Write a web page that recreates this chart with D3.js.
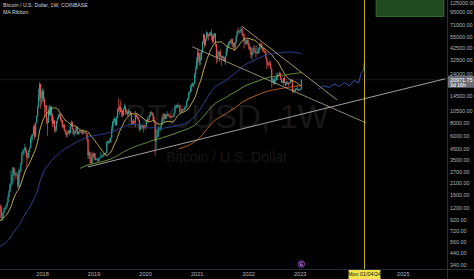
<!DOCTYPE html>
<html lang="en">
<head>
<meta charset="UTF-8" />
<title>BTCUSD 1W COINBASE</title>
<script src="https://d3js.org/d3.v7.min.js"></script>
<style>
  html, body { margin: 0; padding: 0; background: #000; overflow: hidden; }
  svg { display: block; font-family: "Liberation Sans", Arial, sans-serif; }
</style>
</head>
<body>
<div id="chart"></div>
<script>
// weekly bars, first one is Monday 2014-12-01 (start of COINBASE history)
const firstBar = new Date(2014, 11, 1);

// closes before the visible window, only used for the moving averages
const histClose = [
  375, 355, 330, 318, 270,
  266, 210, 253, 226, 222, 234, 245, 255, 275, 285, 260, 247, 255, 236, 224, 226, 232, 240, 237, 237, 230,
  225, 232, 250, 243, 257, 292, 275, 290, 285, 280, 265, 233, 228, 230, 230, 231, 236, 237, 246, 265, 285,
  325, 384, 330, 322, 362, 378, 434, 458, 422, 430,
  448, 380, 390, 378, 375, 378, 405, 435, 437, 411, 415, 410, 416, 420, 425, 450, 455, 460, 455, 445, 530,
  535, 575, 690, 670, 640, 650, 660, 655, 655, 590, 585, 575, 570, 575, 610, 605, 605, 608, 615, 640, 655,
  700, 705, 700, 740, 735, 740, 770, 790, 890, 998
];

// weekly candles from 2017-01-02 (open = previous close)
const close = [
  910, 820, 920, 920, 1020, 1000, 1055, 1180, 1270, 1230, 960, 965, 1080, 1180, 1180, 1240, 1350, 1540, 1720, 2040,
  2050, 2530, 2950, 2560, 2600, 2500, 2500, 1950, 2750, 2730, 3250, 4070, 4100, 4340, 4600, 4200, 3700, 3700, 4350, 4600,
  5700, 6000, 6150, 7400, 5900, 8000, 9300, 11300, 15000, 19100, 14000, 13850,
  16200, 13600, 11600, 11750, 8200, 8100, 10400, 9600, 11500, 9550, 7850, 8450, 6850, 7000, 8350, 8900, 9400, 9650, 8700, 8500,
  7350, 7700, 6780, 6450, 6150, 6370, 6750, 6350, 7400, 8200, 7030, 6300, 6400, 6700, 7300, 6250, 6500, 6700, 6600, 6600,
  6300, 6450, 6400, 6480, 6350, 5600, 3900, 4150, 3600, 3250, 3950, 3850, 4050,
  3500, 3550, 3550, 3420, 3680, 3680, 3800, 3820, 3940, 4020, 4000, 4100, 5200, 5150, 5300, 5200, 5750, 6950, 8200, 8750,
  8750, 7650, 8950, 10850, 10800, 11450, 10250, 10550, 9500, 11000, 11550, 10200, 10150, 9750, 10400, 10300, 10000, 8050, 7850, 8300,
  8200, 9550, 9200, 8800, 8500, 6900, 7400, 7500, 7100, 7500, 7400, 7350,
  8200, 8700, 8600, 9350, 10150, 9900, 9650, 8550, 8050, 5350, 5850, 5900, 6780, 6900, 7120, 7700, 8900, 8750, 9680, 8720,
  9450, 9750, 9350, 9300, 9100, 9080, 9300, 9200, 9950, 11050, 11700, 11900, 11650, 11700, 10250, 10330, 10940, 10780, 10670, 11380,
  11500, 13030, 13750, 15480, 15960, 18400, 18200, 19150, 19150, 23850, 26280, 32000,
  38200, 35800, 32300, 33100, 39000, 48800, 57400, 45200, 51200, 59000, 57300, 55800, 58200, 60000, 56200, 49100, 56600, 58200, 46400, 34700,
  35700, 35800, 39100, 35500, 34700, 35300, 34250, 31800, 35400, 39900, 43800, 47100, 49300, 48800, 51800, 46000, 47250, 43200, 48200, 54700,
  61500, 61000, 61300, 63300, 65000, 58700, 57300, 49400, 50100, 46700, 50800, 47300,
  41900, 43100, 36300, 37900, 42400, 42200, 38400, 37700, 38400, 37800, 41300, 46800, 46400, 42200, 39700, 39500, 38500, 34100, 31300, 30300,
  29400, 29900, 26600, 20600, 21000, 19300, 20850, 20800, 22600, 23300, 23200, 24300, 21500, 19550, 19950, 21800, 19400, 18800, 19300, 19450,
  19270, 19570, 20630, 20900, 16300, 16280, 16450, 17100, 17100, 16750, 16840, 16550,
  17100, 20971.75
];
const high = [
  1150, 920, 930, 930, 1040, 1070, 1060, 1190, 1290, 1300, 1260, 1080, 1100, 1210, 1220, 1270, 1360, 1600, 1800, 2100,
  2780, 2550, 2980, 2980, 2800, 2620, 2700, 2550, 2950, 2800, 3290, 4200, 4480, 4400, 4980, 4700, 4400, 4100, 4370, 4620,
  5860, 6200, 6300, 7600, 7900, 8100, 9500, 11850, 17200, 19900, 19200, 16500,
  17250, 17000, 14100, 12000, 11900, 9000, 11300, 11800, 11700, 11700, 9900, 9100, 8500, 7500, 8400, 9050, 9750, 9990, 9700, 8900,
  8550, 7750, 7750, 6850, 6850, 6500, 6800, 6800, 7550, 8500, 8250, 7150, 6650, 6900, 7350, 7400, 6600, 6800, 6800, 6650,
  6700, 7000, 6500, 6500, 6550, 6400, 5620, 4400, 4200, 3620, 4150, 4230, 4100,
  4100, 3750, 3620, 3580, 3700, 3700, 4200, 3900, 3950, 4030, 4080, 4150, 5300, 5470, 5350, 5650, 5800, 7500, 8350, 8800,
  9100, 8800, 9350, 11200, 13850, 12000, 13150, 11100, 10650, 11100, 12300, 11600, 10950, 10600, 10900, 10450, 10350, 10050, 8500, 8700,
  8400, 10500, 9800, 9500, 9100, 8550, 7850, 7700, 7650, 7600, 7700, 7500,
  8450, 9200, 8700, 9550, 10200, 10500, 10250, 9950, 9200, 8150, 6950, 6950, 7200, 7450, 7250, 7750, 9450, 10050, 9950, 9850,
  9650, 10400, 9950, 9600, 9800, 9300, 9450, 9350, 10000, 12000, 11900, 12100, 12450, 11800, 12100, 10550, 11100, 11000, 10950, 11450,
  11750, 13350, 14000, 15950, 16400, 18800, 19500, 19900, 19450, 24300, 28400, 34800,
  41950, 40100, 37900, 38600, 40950, 49700, 58350, 57500, 52650, 61800, 60600, 58400, 60200, 61200, 64850, 57500, 58450, 59600, 59500, 46600,
  40900, 39500, 39600, 41300, 35750, 36600, 35400, 34600, 35500, 42600, 45300, 48150, 49800, 50500, 51900, 52900, 48850, 47400, 49000, 56600,
  62900, 67000, 63300, 63900, 69000, 67000, 59300, 59100, 51950, 50200, 52100, 52100,
  47600, 44450, 43500, 38900, 42700, 45850, 44750, 39800, 45400, 42500, 42400, 46900, 48250, 47200, 42450, 42950, 40800, 40000, 34250, 31450,
  30650, 32200, 31700, 26900, 21850, 21550, 22500, 21600, 24300, 24650, 23650, 25200, 24450, 21850, 20600, 21850, 22800, 19950, 20400, 20450,
  19950, 19700, 20980, 21450, 21050, 17200, 16800, 17350, 17450, 18400, 16950, 16950,
  17200, 21050
];
const low = [
  880, 750, 820, 880, 915, 940, 980, 1050, 1170, 1100, 950, 890, 930, 1070, 1150, 1170, 1230, 1340, 1520, 1700,
  1850, 2000, 2450, 2150, 2450, 2300, 2480, 1850, 1900, 2430, 2650, 3200, 3950, 3850, 4300, 4000, 2970, 3550, 3650, 4180,
  4550, 5100, 5400, 6100, 5500, 5850, 7950, 9200, 11200, 13100, 11000, 12000,
  12800, 12600, 9000, 10000, 7800, 6000, 8000, 9300, 9400, 8300, 7300, 7750, 6500, 6450, 6600, 7850, 8650, 9000, 8350, 7950,
  7100, 7050, 6650, 6150, 5800, 5800, 6300, 6100, 6300, 7400, 6900, 6100, 5900, 6250, 6680, 6150, 6150, 6150, 6400, 6450,
  6150, 6300, 6370, 6250, 6300, 5250, 3600, 3600, 3300, 3200, 3220, 3600, 3650,
  3450, 3480, 3480, 3350, 3380, 3560, 3650, 3700, 3690, 3840, 3950, 3920, 4100, 4950, 5050, 5050, 5150, 5700, 6600, 7500,
  8000, 7450, 7550, 8900, 10300, 9650, 10100, 9100, 9100, 9400, 10900, 9500, 9800, 9350, 9700, 9900, 9600, 7750, 7750, 7800,
  7900, 7300, 9000, 8700, 8400, 6600, 6800, 7200, 7000, 6450, 7100, 6850,
  7300, 8050, 8250, 8600, 9150, 9600, 9300, 8500, 8000, 3850, 4450, 5700, 5850, 6750, 6550, 6800, 7650, 8100, 8200, 8700,
  8650, 9250, 9250, 9250, 8900, 8950, 9050, 9050, 9150, 9900, 10950, 11150, 11400, 11150, 9850, 9900, 10250, 10150, 10400, 10550,
  11200, 11400, 12950, 13250, 14850, 15800, 16200, 18000, 17600, 19000, 21800, 26100,
  28000, 30400, 28800, 29200, 32300, 38000, 47100, 43000, 44950, 49300, 53300, 50400, 55400, 55500, 50900, 47000, 48800, 53000, 43800, 30000,
  31200, 34800, 31000, 33300, 28800, 32700, 32100, 31100, 29300, 35200, 37500, 42800, 43950, 46350, 46550, 42800, 43400, 39600, 40800, 46900,
  53900, 59600, 57800, 59400, 62300, 55600, 53300, 42000, 47100, 45600, 45550, 45650,
  40600, 39650, 34000, 32900, 36250, 41700, 38000, 34300, 37500, 37150, 37600, 40500, 44200, 41900, 39200, 38550, 37600, 33700, 26700, 28700,
  28000, 29300, 26550, 17600, 19650, 18650, 19050, 18900, 20750, 20700, 22400, 22700, 20750, 19500, 19550, 18500, 19350, 18150, 18500, 19050,
  18200, 18900, 19250, 20000, 15600, 15850, 15450, 16050, 16750, 16550, 16300, 16450,
  16900, 16900
];

// MA Ribbon lengths and colours
const maLengths = [20, 100, 200, 300];
const maColors = ["#d2bd55", "#3149a8", "#78a845", "#d9702c"];

// axis labels
const priceTicks = [340, 440, 560, 720, 920, 1200, 1600, 2100, 2700, 3500, 4500, 6000, 8000,
  10500, 14500, 24000, 32500, 42500, 55000, 71000, 95000, 125000];
const yearTicks = [2018, 2019, 2020, 2021, 2022, 2023, 2025];
const lastPrice = 20971.75;

// drawings on the chart: [date, price] anchors
const riseLine = [["2018-11-19", 3000], ["2025-10-27", 21450]];
const athLine = [["2021-11-15", 69000], ["2023-09-18", 13400]];
const wedgeLine = [["2020-11-26", 43800], ["2024-04-10", 8030]];
const projDates = ["2023-05-10", "2023-06-15", "2023-07-28", "2023-08-30", "2023-10-05", "2023-11-08",
  "2023-12-15", "2024-01-18", "2024-02-20", "2024-03-05", "2024-03-10", "2024-03-18", "2024-03-25", "2024-03-28"];
const projPrices = [17000, 18300, 17650, 19150, 18050, 19750, 18300, 20650, 19500, 23450, 24350, 25250, 26600, 30450];
const markerDate = "2024-04-01";
const boxDates = ["2024-06-22", "2025-10-16"];
const boxPrices = [85700, 300000];

const W = 474, H = 279;
const plotW = 447, plotH = 269;

const parse = d3.timeParse("%Y-%m-%d");
const weekDate = k => d3.timeDay.offset(firstBar, 7 * k);

const x = d3.scaleTime()
  .domain([new Date(2018, 0, 1), new Date(2023, 0, 1)])
  .range([42.6, 300.2]);
const y = d3.scaleLog()
  .domain([340, 95000])
  .range([264.5, 12]);

const svg = d3.select("#chart").append("svg")
  .attr("width", W).attr("height", H);

svg.append("rect").attr("width", W).attr("height", H).attr("fill", "#000");

svg.append("clipPath").attr("id", "plot")
  .append("rect").attr("width", plotW).attr("height", plotH);

const plot = svg.append("g").attr("clip-path", "url(#plot)");

// watermark
plot.append("text")
  .attr("x", 227).attr("y", 128)
  .attr("text-anchor", "middle")
  .attr("font-size", 33)
  .attr("fill", "#181818")
  .text("BTCUSD, 1W");
plot.append("text")
  .attr("x", 227).attr("y", 162)
  .attr("text-anchor", "middle")
  .attr("font-size", 14)
  .attr("fill", "#181818")
  .text("Bitcoin / U.S. Dollar");

// green zone
plot.append("rect")
  .attr("x", x(parse(boxDates[0])))
  .attr("y", y(boxPrices[1]))
  .attr("width", x(parse(boxDates[1])) - x(parse(boxDates[0])))
  .attr("height", y(boxPrices[0]) - y(boxPrices[1]))
  .attr("fill", "#1f4a1f")
  .attr("stroke", "#3a7a34")
  .attr("stroke-width", 0.8);

// last price line
plot.append("line")
  .attr("x1", 0).attr("x2", plotW)
  .attr("y1", y(lastPrice)).attr("y2", y(lastPrice))
  .attr("stroke", "#4a4d55")
  .attr("stroke-width", 0.6)
  .attr("stroke-dasharray", "1,1");

// candles
const allClose = histClose.concat(close);
const off = histClose.length;
const bars = close.map((c, i) => ({
  date: weekDate(off + i),
  open: allClose[off + i - 1],
  close: c,
  high: high[i],
  low: low[i]
}));

plot.append("g").selectAll("line")
  .data(bars)
  .join("line")
  .attr("x1", d => x(d.date)).attr("x2", d => x(d.date))
  .attr("y1", d => y(d.high)).attr("y2", d => y(d.low))
  .attr("stroke", d => d.close >= d.open ? "#26a69a" : "#ef5350")
  .attr("stroke-width", 0.7);

plot.append("g").selectAll("rect")
  .data(bars)
  .join("rect")
  .attr("x", d => x(d.date) - 0.5)
  .attr("width", 1)
  .attr("y", d => y(Math.max(d.open, d.close)))
  .attr("height", d => Math.max(0.5, Math.abs(y(d.open) - y(d.close))))
  .attr("fill", d => d.close >= d.open ? "#26a69a" : "#ef5350");

// moving averages
function sma(n) {
  const out = [];
  for (let k = n - 1; k < allClose.length; k++) {
    out.push({ date: weekDate(k), value: d3.mean(allClose.slice(k - n + 1, k + 1)) });
  }
  return out;
}
const maLine = d3.line().x(d => x(d.date)).y(d => y(d.value));
maLengths.forEach((n, i) => {
  plot.append("path")
    .datum(sma(n))
    .attr("d", maLine)
    .attr("fill", "none")
    .attr("stroke", maColors[i])
    .attr("stroke-width", 0.9);
});

// trend lines
const seg = (pts, color) => plot.append("line")
  .attr("x1", x(parse(pts[0][0]))).attr("y1", y(pts[0][1]))
  .attr("x2", x(parse(pts[1][0]))).attr("y2", y(pts[1][1]))
  .attr("stroke", color)
  .attr("stroke-width", 0.8);
seg(riseLine, "#c9c9c9");
seg(athLine, "#cbb878");
seg(wedgeLine, "#b3a98e");

// projected path
plot.append("path")
  .datum(projDates.map((d, i) => ({ date: parse(d), value: projPrices[i] })))
  .attr("d", maLine)
  .attr("fill", "none")
  .attr("stroke", "#3d66d6")
  .attr("stroke-width", 0.8);

// vertical date marker
const mx = x(parse(markerDate));
svg.append("line")
  .attr("x1", mx).attr("x2", mx)
  .attr("y1", 0).attr("y2", H)
  .attr("stroke", "#d8c81c")
  .attr("stroke-width", 0.9);

// axes frame
svg.append("line").attr("x1", plotW + 0.5).attr("x2", plotW + 0.5).attr("y1", 0).attr("y2", H)
  .attr("stroke", "#2a2e39").attr("stroke-width", 1);
svg.append("line").attr("x1", 0).attr("x2", W).attr("y1", plotH + 0.5).attr("y2", plotH + 0.5)
  .attr("stroke", "#2a2e39").attr("stroke-width", 1);

// price axis
svg.append("g").selectAll("text")
  .data(priceTicks)
  .join("text")
  .attr("x", plotW + 3)
  .attr("y", d => Math.max(5, y(d) + 2))
  .attr("font-size", 5.4)
  .attr("fill", "#b2b5be")
  .text(d3.format(".2f"));

// last price tag
svg.append("rect")
  .attr("x", plotW + 1).attr("y", y(lastPrice) - 4)
  .attr("width", W - plotW).attr("height", 12)
  .attr("fill", "#6b6e78");
svg.append("text")
  .attr("x", plotW + 3).attr("y", y(lastPrice) + 2)
  .attr("font-size", 5.4).attr("fill", "#fff")
  .text(d3.format(".2f")(lastPrice));
svg.append("text")
  .attr("x", plotW + 3).attr("y", y(lastPrice) + 7)
  .attr("font-size", 5.2).attr("fill", "#fff")
  .text("3d 16h");

// time axis
svg.append("g").selectAll("text")
  .data(yearTicks)
  .join("text")
  .attr("x", d => x(new Date(d, 0, 1)))
  .attr("y", 276)
  .attr("text-anchor", "middle")
  .attr("font-size", 5.6)
  .attr("fill", "#b2b5be")
  .text(d => d);

svg.append("rect")
  .attr("x", mx - 16).attr("y", plotH + 1)
  .attr("width", 32).attr("height", 10)
  .attr("rx", 1)
  .attr("fill", "#f2e44a");
svg.append("text")
  .attr("x", mx).attr("y", 276)
  .attr("text-anchor", "middle")
  .attr("font-size", 5.4)
  .attr("fill", "#111")
  .text("Mon 01/04/24");

// event marker near last bar
const ex = x(weekDate(allClose.length - 1));
svg.append("circle")
  .attr("cx", ex).attr("cy", 264)
  .attr("r", 3.3)
  .attr("fill", "#2a1140")
  .attr("stroke", "#8e44c9")
  .attr("stroke-width", 0.8);
svg.append("text")
  .attr("x", ex).attr("y", 265.8)
  .attr("text-anchor", "middle")
  .attr("font-size", 4.5)
  .attr("fill", "#c9a0ee")
  .text("E");

// legend
svg.append("text")
  .attr("x", 3).attr("y", 7)
  .attr("font-size", 5.2)
  .attr("fill", "#d1d4dc")
  .text("Bitcoin / U.S. Dollar, 1W, COINBASE");
svg.append("text")
  .attr("x", 3).attr("y", 14)
  .attr("font-size", 5.2)
  .attr("fill", "#d1d4dc")
  .text("MA Ribbon");
</script>
</body>
</html>
